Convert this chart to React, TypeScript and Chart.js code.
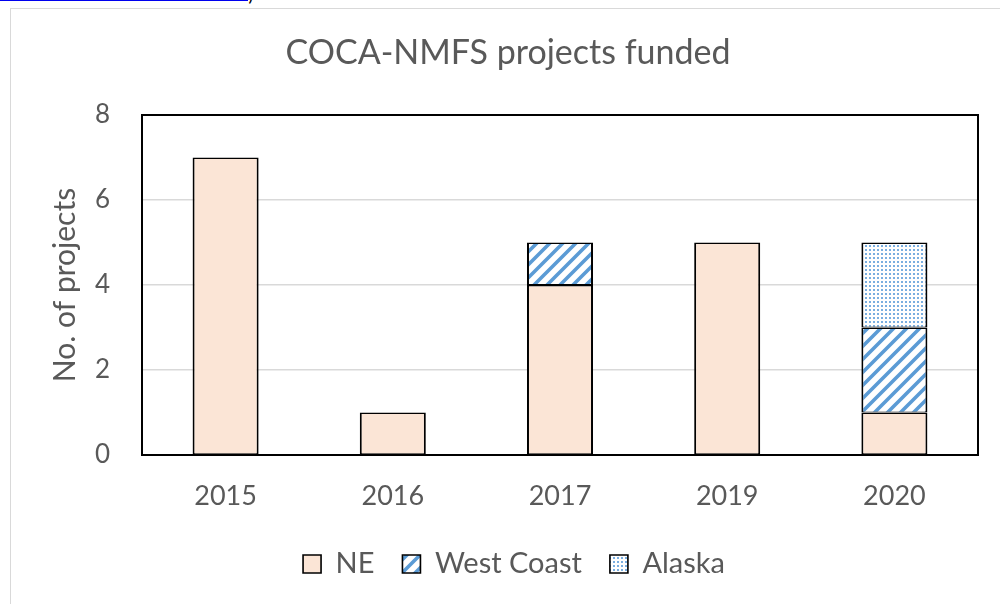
import React, { useEffect, useRef } from "react";
import { Chart, registerables } from "chart.js";

Chart.register(...registerables);

const categories = ["2015", "2016", "2017", "2019", "2020"];
const seriesNames = ["NE", "West Coast", "Alaska"];
const neValues: (number | null)[] = [7, 1, 4, 5, 1];
const westCoastValues: (number | null)[] = [null, null, 1, null, 2];
const alaskaValues: (number | null)[] = [null, null, null, null, 2];
const yMin = 0;
const yMax = 8;
const yStep = 2;
const chartTitle = "COCA-NMFS projects funded";
const yAxisTitle = "No. of projects";

const FONT = "Lato, 'Open Sans', sans-serif";
const TEXT = "#595959";
const BLUE = "#5B9BD5";
const PEACH = "#FBE5D6";

function makeStripePattern(): CanvasPattern | string {
  const s = 13;
  const c = document.createElement("canvas");
  c.width = s;
  c.height = s;
  const g = c.getContext("2d");
  if (!g) return BLUE;
  g.fillStyle = "#ffffff";
  g.fillRect(0, 0, s, s);
  g.strokeStyle = BLUE;
  g.lineWidth = 3.6;
  g.beginPath();
  g.moveTo(-s, s * 2);
  g.lineTo(s * 2, -s);
  g.moveTo(-s, s);
  g.lineTo(s, -s);
  g.moveTo(0, s * 2);
  g.lineTo(s * 2, 0);
  g.stroke();
  return g.createPattern(c, "repeat") || BLUE;
}

function makeDotPattern(): CanvasPattern | string {
  const c = document.createElement("canvas");
  c.width = 4;
  c.height = 4;
  const g = c.getContext("2d");
  if (!g) return BLUE;
  g.fillStyle = "#ffffff";
  g.fillRect(0, 0, 4, 4);
  g.fillStyle = "#7AAEE0";
  g.fillRect(1, 1, 2, 2);
  return g.createPattern(c, "repeat") || BLUE;
}

const excelLayout = {
  id: "excelLayout",
  afterLayout(chart: any) {
    const t = chart.titleBlock;
    if (t) {
      t.left = 10;
      t.right = 1006;
    }
    const l = chart.legend;
    if (l) {
      l.left = 14;
      l.right = 1014;
    }
  },
  afterDatasetsDraw(chart: any) {
    const { ctx, chartArea } = chart;
    ctx.save();
    ctx.strokeStyle = "#000000";
    ctx.lineWidth = 2;
    ctx.strokeRect(chartArea.left, chartArea.top, chartArea.right - chartArea.left, chartArea.bottom - chartArea.top);
    ctx.restore();
  },
};

export default function App() {
  const ref = useRef<HTMLCanvasElement | null>(null);

  useEffect(() => {
    if (!ref.current) return;
    const stripes = makeStripePattern();
    const dots = makeDotPattern();
    const common = {
      borderColor: "#000000",
      borderWidth: { left: 2, right: 2, top: 1.5, bottom: 1 },
      borderSkipped: false as const,
      barPercentage: 0.395,
      categoryPercentage: 1,
      stack: "s",
    };
    const chart = new Chart(ref.current, {
      type: "bar",
      data: {
        labels: categories,
        datasets: [
          { label: seriesNames[0], data: neValues, backgroundColor: PEACH, ...common },
          { label: seriesNames[1], data: westCoastValues, backgroundColor: stripes as any, ...common },
          { label: seriesNames[2], data: alaskaValues, backgroundColor: dots as any, ...common },
        ],
      },
      options: {
        responsive: false,
        animation: false,
        layout: { padding: { left: 0, right: 22, top: 0, bottom: 15.5 } },
        plugins: {
          title: {
            display: true,
            text: chartTitle,
            color: TEXT,
            font: { family: FONT, size: 34, weight: "normal" },
            padding: { top: 32.6, bottom: 41.6 },
          },
          legend: {
            display: true,
            position: "bottom",
            labels: {
              color: TEXT,
              font: { family: FONT, size: 29 },
              boxWidth: 18,
              boxHeight: 18,
              padding: 28,
            },
          },
          tooltip: { enabled: false },
        },
        scales: {
          x: {
            stacked: true,
            grid: { display: false },
            border: { display: false },
            ticks: { color: TEXT, font: { family: FONT, size: 27 }, padding: 17 },
            afterFit(scale: any) {
              scale.height = 66.5;
            },
          },
          y: {
            stacked: true,
            min: yMin,
            max: yMax,
            ticks: { stepSize: yStep, color: TEXT, font: { family: FONT, size: 26 }, padding: 32 },
            grid: { color: "#D9D9D9", lineWidth: 1.5, drawTicks: false },
            border: { display: false },
            title: {
              display: true,
              text: yAxisTitle,
              color: TEXT,
              font: { family: FONT, size: 30 },
              padding: { top: 47, bottom: 0 },
            },
            afterFit(scale: any) {
              scale.width = 142;
            },
          },
        },
      },
      plugins: [excelLayout],
    });
    return () => chart.destroy();
  }, []);

  return (
    <div style={{ position: "fixed", left: 0, top: 0, width: 1000, height: 604, overflow: "hidden", background: "#ffffff" }}>
      <div style={{ position: "absolute", left: 0, top: 0, width: 300, height: 6, overflow: "hidden" }}>
        <div
          style={{
            position: "absolute",
            left: 0,
            bottom: 1,
            whiteSpace: "nowrap",
            fontFamily: "Calibri, Carlito, 'Open Sans', sans-serif",
            fontSize: 20,
            lineHeight: "22px",
          }}
        >
          <span style={{ display: "inline-block", width: 248, color: "#0000EE", borderBottom: "3px solid #0000EE", overflow: "hidden" }}>
            Northeast Fisheries Science Center projects (2021
          </span>
          <span style={{ color: "#000" }}>)</span>
        </div>
      </div>
      <div
        style={{
          position: "absolute",
          left: 10,
          top: 8,
          width: 1000,
          height: 620,
          border: "1px solid #D9D9D9",
          boxSizing: "border-box",
        }}
      />
      <canvas ref={ref} width={1000} height={604} style={{ position: "absolute", left: 0, top: 0, width: 1000, height: 604 }} />
    </div>
  );
}
